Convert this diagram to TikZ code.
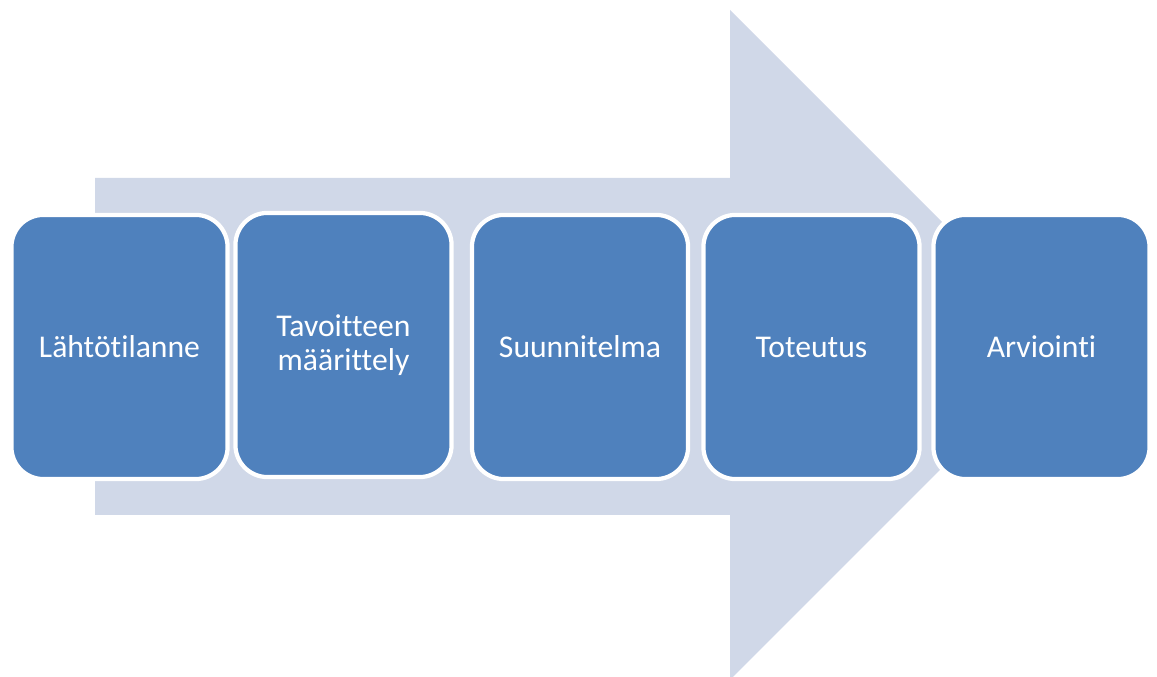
\documentclass[tikz,border=0pt]{standalone}
\usepackage{fontspec}
\setmainfont[Ligatures=NoCommon]{Carlito}
\definecolor{stepblue}{HTML}{4F81BD}
\definecolor{arrowgrey}{HTML}{D0D8E8}
\begin{document}
\begin{tikzpicture}[
        x=0.01cm, y=-0.01cm,
        phase/.style={draw=white, line width=1.2pt, fill=stepblue, rounded corners=0.32cm,
            minimum width=2.16cm, minimum height=2.64cm, align=center,
            text=white, font=\fontsize{9}{9.5}\selectfont},
        ]
    \useasboundingbox (0,0) rectangle (1157,677);
    \clip (0,0) rectangle (1157,677);
    \fill[arrowgrey] (95,178) -- (730,178) -- (730,10) -- (1065,345)
        -- (730,680) -- (730,515) -- (95,515) -- cycle;
    \node (lahto)    [phase] at (119.5,347) {Lähtötilanne};
    \node (tavoite)  [phase] at (343.5,345) {Tavoitteen\\määrittely};
    \node (suunn)    [phase] at (580,347)   {Suunnitelma};
    \node (toteutus) [phase] at (811.5,347) {Toteutus};
    \node (arvio)    [phase] at (1041.5,347) {Arviointi};
\end{tikzpicture}
\end{document}
